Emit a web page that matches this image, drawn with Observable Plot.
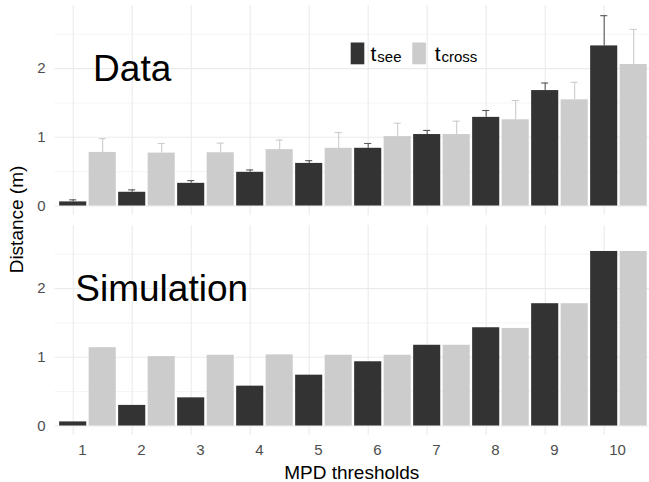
<!DOCTYPE html>
<html><head><meta charset="utf-8">
<script src="https://cdn.jsdelivr.net/npm/d3@7"></script>
<script src="https://cdn.jsdelivr.net/npm/@observablehq/plot@0.6"></script>
<style>
body{margin:0;background:#fff;}
#chart{position:relative;width:649px;height:482px;}
</style>
</head><body><div id="chart"></div>
<script>
// ---- data ----
const thresholds = [1, 2, 3, 4, 5, 6, 7, 8, 9, 10];
const panels = ["Data", "Simulation"];
const seriesNames = ["t_see", "t_cross"];
const seriesColors = ["#333333", "#CCCCCC"];
const errorColors = ["#595959", "#CCCCCC"];

// Data panel: bar heights and upper ends of error bars
const dataSee       = [0.06, 0.20, 0.33, 0.49, 0.62, 0.84, 1.04, 1.29, 1.68, 2.33];
const dataSeeUpper  = [0.09, 0.235, 0.37, 0.525, 0.66, 0.91, 1.10, 1.39, 1.79, 2.77];
const dataCross     = [0.78, 0.77, 0.775, 0.82, 0.84, 1.01, 1.04, 1.255, 1.545, 2.06];
const dataCrossUpper= [0.98, 0.91, 0.915, 0.96, 1.07, 1.205, 1.235, 1.535, 1.80, 2.57];
// Simulation panel
const simSee   = [0.06, 0.30, 0.41, 0.58, 0.74, 0.935, 1.175, 1.43, 1.78, 2.54];
const simCross = [1.14, 1.01, 1.03, 1.035, 1.03, 1.03, 1.175, 1.42, 1.78, 2.54];

const yTicks = [0, 1, 2];
const yMinor = [0.5, 1.5, 2.5];

// ---- build table ----
const rows = [];
function add(panel, sIdx, values, uppers) {
  thresholds.forEach((t, i) => {
    rows.push({panel, series: seriesNames[sIdx], sIdx, threshold: t,
      value: values[i], upper: uppers ? uppers[i] : null});
  });
}
add("Data", 0, dataSee, dataSeeUpper);
add("Data", 1, dataCross, dataCrossUpper);
add("Simulation", 0, simSee, null);
add("Simulation", 1, simCross, null);
const errRows = rows.filter(d => d.upper != null);

const center = d => d.threshold + d.sIdx * 0.5;
const annotations = [
  {panel: "Data", x: 2, label: "Data"},
  {panel: "Simulation", x: 2.5, label: "Simulation"}
];

const font = "'Liberation Sans', Arial, Helvetica, sans-serif";
const grid = "#EBEBEB";

const chart = Plot.plot({
  width: 649, height: 482,
  marginLeft: 54.5, marginRight: 0, marginTop: 5, marginBottom: 47,
  style: {fontFamily: font, background: "#fff", overflow: "visible"},
  x: {domain: [0.6915, 10.768]},
  y: {domain: [-0.138, 2.918]},
  fy: {domain: panels, axis: null, paddingInner: 10 / 220, paddingOuter: 0, round: false},
  color: {domain: seriesNames, range: seriesColors},
  marks: [
    Plot.ruleY(yMinor, {stroke: grid, strokeWidth: 0.55}),
    Plot.ruleY(yTicks, {stroke: grid, strokeWidth: 1.1}),
    Plot.ruleX(thresholds, {stroke: grid, strokeWidth: 1.1}),
    Plot.rect(rows, {
      x1: d => center(d) - 0.25, x2: d => center(d) + 0.25,
      y1: d => 0, y2: "value", fy: "panel", fill: "series",
      insetLeft: 1.2, insetRight: 1.2
    }),
    Plot.ruleX(errRows, {x: center, y1: "value", y2: "upper", fy: "panel",
      stroke: d => errorColors[d.sIdx], strokeWidth: 1.1}),
    Plot.ruleY(errRows, {y: "upper", x1: d => center(d) - 0.06, x2: d => center(d) + 0.06,
      fy: "panel", stroke: d => errorColors[d.sIdx], strokeWidth: 1.1}),
    Plot.text(annotations, {x: "x", y: d => 2, fy: "panel", text: "label",
      fontSize: 37, fill: "#000", lineAnchor: "middle", dy: 1, fontFamily: font}),
    Plot.axisY({ticks: yTicks, tickSize: 0, tickPadding: 9.5, fontSize: 15,
      fill: "#4D4D4D", label: null, tickFormat: d => String(d)}),
    Plot.axisX({ticks: thresholds, tickSize: 0, tickPadding: 9, fontSize: 15,
      fill: "#4D4D4D", label: null, textAnchor: "start", dx: 5, tickFormat: d => String(d)})
  ]
});

const svg = d3.select(chart);
// axis titles
svg.append("text").attr("x", 351.75).attr("y", 479)
  .attr("text-anchor", "middle").attr("font-size", 19).attr("fill", "#000")
  .attr("font-family", font).text("MPD thresholds");
svg.append("text").attr("transform", "translate(22.5,219.5) rotate(-90)")
  .attr("text-anchor", "middle").attr("font-size", 19).attr("fill", "#000")
  .attr("font-family", font).text("Distance (m)");

// legend (t with subscripts)
const legend = svg.append("g").attr("font-family", font).attr("text-anchor", "start");
const legendItems = [
  {x: 350.7, textX: 370.5, main: "t", sub: "see"},
  {x: 412.3, textX: 434.7, main: "t", sub: "cross"}
];
legendItems.forEach((it, i) => {
  legend.append("rect").attr("x", it.x).attr("y", 42.5).attr("width", 13.6).attr("height", 21.8)
    .attr("fill", seriesColors[i]);
  const t = legend.append("text").attr("x", it.textX).attr("y", 61)
    .attr("fill", "#000").attr("text-anchor", "start");
  t.append("tspan").attr("font-size", 21).text(it.main);
  t.append("tspan").attr("font-size", 15).attr("dy", 1).attr("dx", 1).text(it.sub);
});

document.getElementById("chart").appendChild(chart);
</script>
</body></html>
